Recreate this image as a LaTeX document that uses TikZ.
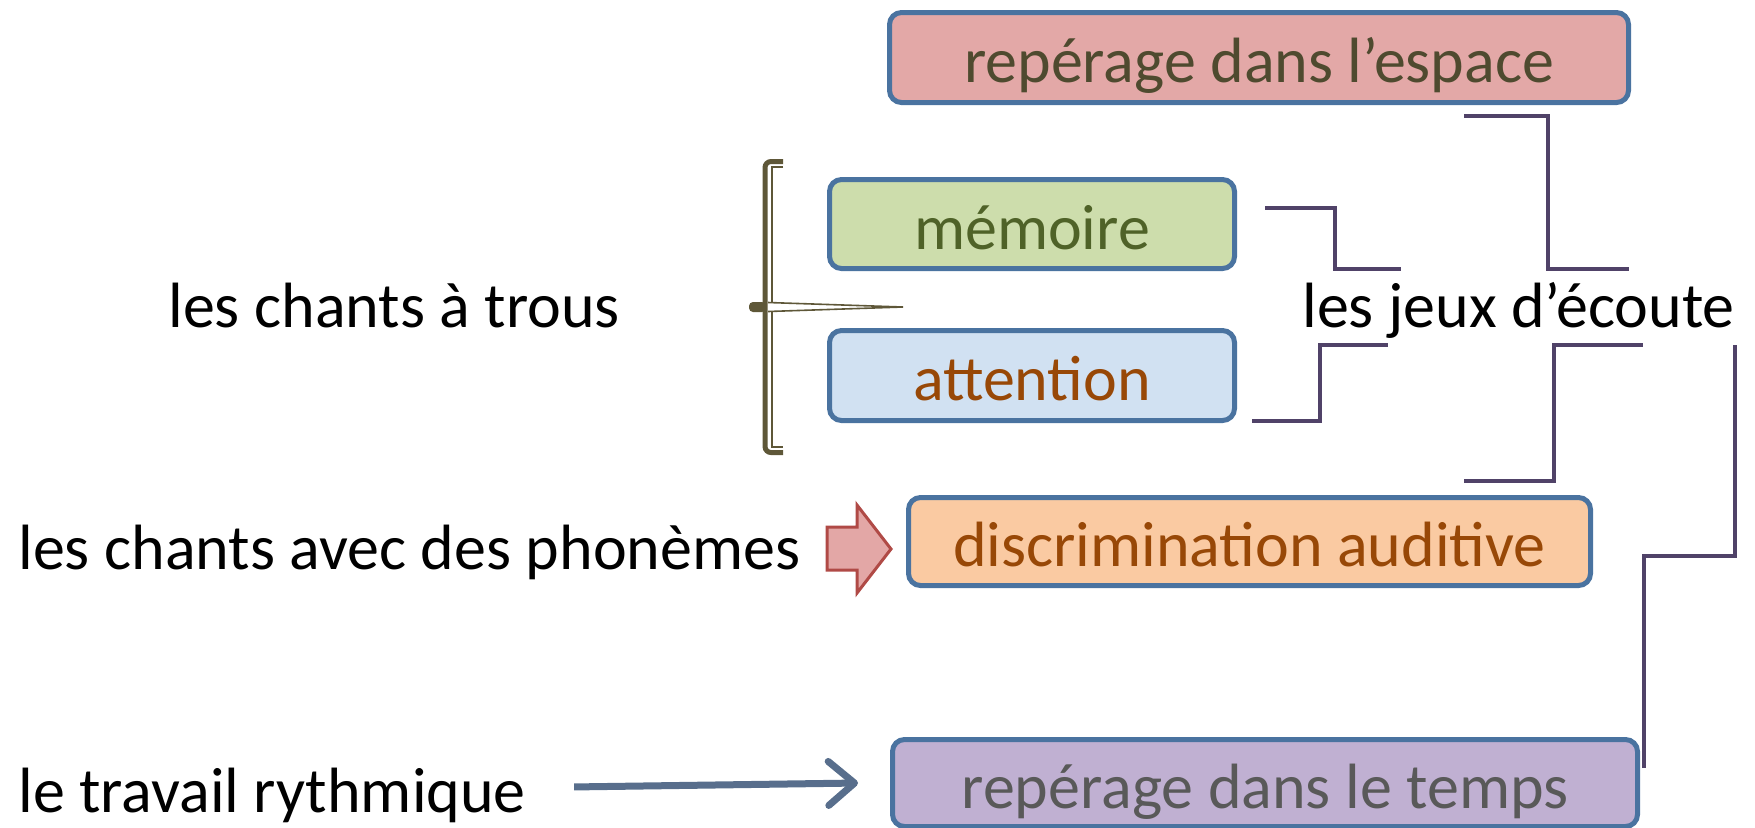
\documentclass[tikz,border=0pt]{standalone}
\usepackage{fontspec}
\setmainfont{Carlito}
\usetikzlibrary{arrows.meta}

\definecolor{boxline}{RGB}{74,115,160}
\definecolor{linkc}{RGB}{80,66,104}
\definecolor{brkc}{RGB}{94,87,56}
\definecolor{arrc}{RGB}{88,110,140}

\begin{document}
\begin{tikzpicture}[x=0.5pt,y=-0.5pt,
  box/.style={draw=boxline, line width=2.5pt, rounded corners=6pt, inner sep=0pt, text height=25pt, text depth=0pt, font=\fontsize{32}{38}\selectfont},
  lbl/.style={inner sep=0pt, anchor=base west, font=\fontsize{32}{38}\selectfont},
  link/.style={draw=linkc, line width=2pt}]
\useasboundingbox (0,0) rectangle (1755,827);
% boites
\node[box, fill={rgb,255:red,227;green,168;blue,167}, text={rgb,255:red,79;green,74;blue,47}, minimum width=369.5pt, minimum height=45pt] (espace) at (1259,57.5) {repérage dans l’espace};
\node[box, fill={rgb,255:red,205;green,221;blue,172}, text={rgb,255:red,79;green,98;blue,40}, minimum width=202.5pt, minimum height=44.5pt] (memoire) at (1032,224) {mémoire};
\node[box, fill={rgb,255:red,209;green,225;blue,242}, text={rgb,255:red,152;green,72;blue,7}, minimum width=202.5pt, minimum height=45pt] (attention) at (1032,375.5) {attention};
\node[box, fill={rgb,255:red,250;green,202;blue,162}, text={rgb,255:red,152;green,72;blue,7}, minimum width=341pt, minimum height=44pt] (discrim) at (1249.5,541.5) {discrimination auditive};
\node[box, fill={rgb,255:red,192;green,176;blue,210}, text={rgb,255:red,89;green,89;blue,89}, minimum width=372.5pt, minimum height=43.5pt] (temps) at (1265,783) {repérage dans le temps};
% textes
\node[lbl] (trous) at (168,327) {les chants à trous};
\node[lbl] (jeux) at (1302,327) {les jeux d’écoute};
\node[lbl] (phon) at (18,569) {les chants avec des phonèmes};
\node[lbl] (trav) at (18,812) {le travail rythmique};
% liens
\draw[link] (1464,116) -- (1548,116) -- (1548,269) -- (1629,269);
\draw[link] (1265,208) -- (1335,208) -- (1335,269) -- (1401,269);
\draw[link] (1252,421) -- (1320,421) -- (1320,345) -- (1388,345);
\draw[link] (1464,481) -- (1554,481) -- (1554,345) -- (1643,345);
\draw[link] (1644,768) -- (1644,556) -- (1735,556) -- (1735,345);
% crochet
\draw[brkc, line width=2.5pt, rounded corners=3pt] (783,161.5) -- (765,161.5) -- (765,452.5) -- (783,452.5);
\draw[brkc, line width=0.8pt] (783,167) -- (772,167) -- (772,447) -- (783,447);
\fill[brkc, rounded corners=2pt] (749,302) rectangle (766,312);
\draw[brkc, line width=0.8pt, fill=white] (768,302.5) -- (903,307) -- (768,311.5);
% fleches
\draw[fill={rgb,255:red,227;green,167;blue,166}, draw={rgb,255:red,176;green,74;blue,70}, line width=1.5pt] (827,527) -- (857,527) -- (857,505) -- (891,549) -- (857,593) -- (857,570) -- (827,570) -- cycle;
\draw[arrc, line width=3.5pt, -{Straight Barb[length=13pt, width=22pt, round]}] ([xshift=24pt, yshift=4pt]trav.east) -- ([xshift=-16pt]temps.west);
\end{tikzpicture}
\end{document}
